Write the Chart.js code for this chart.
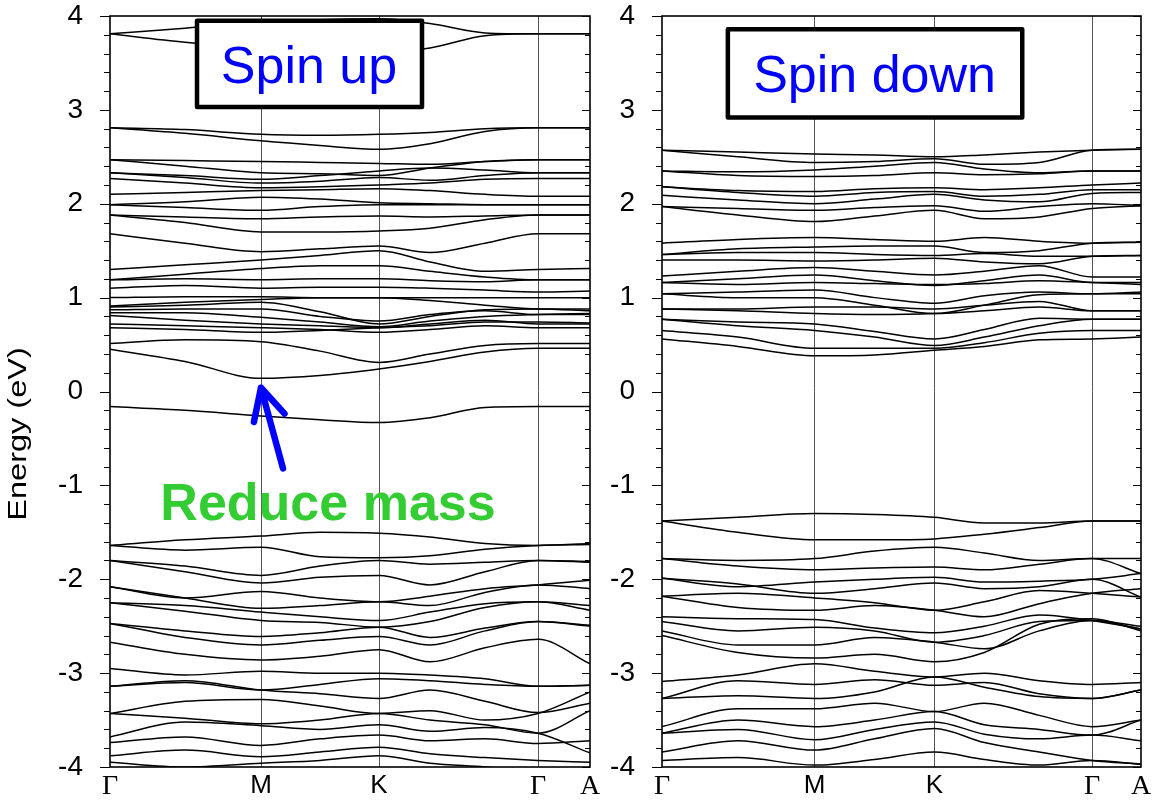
<!DOCTYPE html>
<html>
<head>
<meta charset="utf-8">
<script src="https://cdn.jsdelivr.net/npm/chart.js@4.4.1/dist/chart.umd.min.js"></script>
<style>
  html, body { margin: 0; padding: 0; background: #fff; }
  #wrap { position: relative; width: 1153px; height: 803px; }
  canvas { position: absolute; top: 0; }
  #upChart { left: 0; }
  #downChart { left: 600px; }
</style>
</head>
<body>
<div id="wrap">
  <canvas id="upChart" width="600" height="803"></canvas>
  <canvas id="downChart" width="553" height="803"></canvas>
</div>
<script>
// k-path sample points (Γ, ., M, ., K, ., ., Γ, A) for each panel
const kUp = [0, 0.75, 1.51, 2.10, 2.69, 3.20, 3.75, 4.28, 4.80];
const kDown = [0, 0.76, 1.53, 2.13, 2.73, 3.23, 3.78, 4.31, 4.80];
const kSymUp = [0, 1.51, 2.69, 4.28, 4.80];
const kSymDown = [0, 1.53, 2.73, 4.31, 4.80];
const kSymLabels = ['Γ', 'M', 'K', 'Γ', 'A'];
const energyTicks = [4, 3, 2, 1, 0, -1, -2, -3, -4];

// spin up bands (eV) at the kUp points
const spinUpBands = [
  [3.81, 3.87, 3.93, 3.96, 3.97, 3.92, 3.82, 3.81, 3.81],
  [3.81, 3.72, 3.66, 3.63, 3.62, 3.66, 3.79, 3.81, 3.81],
  [2.81, 2.79, 2.74, 2.73, 2.74, 2.76, 2.80, 2.81, 2.81],
  [2.81, 2.75, 2.67, 2.62, 2.58, 2.64, 2.77, 2.81, 2.81],
  [2.47, 2.46, 2.45, 2.44, 2.43, 2.42, 2.45, 2.47, 2.47],
  [2.47, 2.40, 2.33, 2.32, 2.30, 2.38, 2.45, 2.47, 2.47],
  [2.33, 2.30, 2.26, 2.30, 2.35, 2.38, 2.36, 2.33, 2.33],
  [2.33, 2.28, 2.22, 2.24, 2.28, 2.25, 2.30, 2.33, 2.33],
  [2.27, 2.22, 2.17, 2.18, 2.20, 2.22, 2.26, 2.27, 2.27],
  [2.10, 2.12, 2.14, 2.15, 2.16, 2.14, 2.10, 2.08, 2.08],
  [1.99, 2.02, 2.07, 2.05, 2.01, 2.00, 1.99, 1.99, 1.99],
  [1.99, 1.96, 1.93, 1.97, 1.99, 1.99, 1.99, 1.99, 1.99],
  [1.88, 1.86, 1.84, 1.86, 1.87, 1.86, 1.87, 1.88, 1.88],
  [1.88, 1.80, 1.70, 1.70, 1.71, 1.74, 1.83, 1.88, 1.88],
  [1.68, 1.58, 1.49, 1.52, 1.55, 1.48, 1.58, 1.68, 1.68],
  [1.30, 1.35, 1.40, 1.45, 1.50, 1.38, 1.28, 1.30, 1.31],
  [1.19, 1.25, 1.31, 1.34, 1.34, 1.28, 1.22, 1.19, 1.19],
  [1.19, 1.20, 1.19, 1.20, 1.20, 1.18, 1.17, 1.19, 1.19],
  [1.10, 1.13, 1.10, 1.11, 1.11, 1.10, 1.08, 1.06, 1.07],
  [1.00, 1.01, 1.01, 1.00, 1.00, 1.00, 1.00, 1.00, 1.00],
  [0.91, 0.95, 0.98, 1.00, 1.00, 0.97, 0.92, 0.88, 0.88],
  [0.90, 0.92, 0.95, 0.85, 0.72, 0.80, 0.87, 0.88, 0.86],
  [0.87, 0.88, 0.88, 0.80, 0.75, 0.82, 0.86, 0.82, 0.82],
  [0.84, 0.84, 0.79, 0.74, 0.69, 0.75, 0.80, 0.82, 0.83],
  [0.81, 0.76, 0.72, 0.70, 0.68, 0.72, 0.76, 0.72, 0.72],
  [0.72, 0.70, 0.68, 0.66, 0.63, 0.66, 0.70, 0.68, 0.68],
  [0.68, 0.66, 0.63, 0.65, 0.68, 0.70, 0.74, 0.74, 0.73],
  [0.51, 0.55, 0.53, 0.43, 0.31, 0.40, 0.49, 0.51, 0.51],
  [0.45, 0.32, 0.14, 0.17, 0.24, 0.32, 0.42, 0.46, 0.46],
  [-0.16, -0.20, -0.26, -0.30, -0.33, -0.28, -0.17, -0.16, -0.16],
  [-1.64, -1.58, -1.54, -1.50, -1.51, -1.55, -1.62, -1.64, -1.62],
  [-1.64, -1.69, -1.66, -1.76, -1.77, -1.75, -1.68, -1.64, -1.63],
  [-1.80, -1.86, -1.96, -1.86, -1.80, -1.84, -1.82, -1.80, -1.81],
  [-1.80, -1.92, -2.04, -1.98, -1.96, -2.06, -1.92, -1.80, -1.82],
  [-2.08, -2.20, -2.13, -2.20, -2.24, -2.18, -2.10, -2.06, -2.01],
  [-2.08, -2.20, -2.31, -2.28, -2.24, -2.28, -2.14, -2.06, -2.10],
  [-2.25, -2.28, -2.35, -2.40, -2.44, -2.35, -2.26, -2.24, -2.33],
  [-2.25, -2.34, -2.44, -2.46, -2.51, -2.45, -2.30, -2.24, -2.28],
  [-2.47, -2.55, -2.61, -2.57, -2.51, -2.62, -2.52, -2.45, -2.49],
  [-2.47, -2.62, -2.70, -2.65, -2.61, -2.70, -2.55, -2.45, -2.50],
  [-2.67, -2.80, -2.86, -2.82, -2.75, -2.88, -2.73, -2.64, -2.90],
  [-2.95, -3.02, -2.98, -3.00, -3.00, -3.02, -3.06, -3.14, -3.13],
  [-3.14, -3.10, -3.18, -3.12, -3.06, -3.08, -3.12, -3.14, -3.13],
  [-3.14, -3.08, -3.18, -3.22, -3.27, -3.18, -3.30, -3.42, -3.32],
  [-3.43, -3.30, -3.28, -3.35, -3.43, -3.40, -3.50, -3.43, -3.20],
  [-3.43, -3.48, -3.54, -3.50, -3.43, -3.50, -3.55, -3.64, -3.40],
  [-3.68, -3.52, -3.56, -3.60, -3.55, -3.62, -3.58, -3.64, -3.85],
  [-3.74, -3.68, -3.77, -3.70, -3.66, -3.72, -3.70, -3.75, -3.72],
  [-3.88, -3.82, -3.89, -3.84, -3.79, -3.86, -3.90, -3.93, -3.95],
  [-3.95, -4.00, -3.96, -3.93, -3.88, -3.96, -4.00, -4.05, -4.10]
];

// spin down bands (eV) at the kDown points
const spinDownBands = [
  [2.57, 2.55, 2.53, 2.52, 2.50, 2.52, 2.55, 2.57, 2.58],
  [2.57, 2.50, 2.44, 2.45, 2.48, 2.42, 2.44, 2.57, 2.58],
  [2.35, 2.34, 2.36, 2.40, 2.44, 2.37, 2.33, 2.35, 2.35],
  [2.35, 2.30, 2.29, 2.30, 2.33, 2.31, 2.32, 2.35, 2.35],
  [2.18, 2.14, 2.13, 2.16, 2.17, 2.15, 2.17, 2.20, 2.22],
  [2.18, 2.12, 2.08, 2.12, 2.13, 2.08, 2.10, 2.15, 2.15],
  [2.09, 2.04, 2.00, 2.05, 2.10, 2.04, 2.02, 2.11, 2.12],
  [1.97, 1.95, 1.93, 1.96, 1.98, 1.92, 1.97, 2.00, 1.98],
  [1.97, 1.88, 1.81, 1.87, 1.93, 1.84, 1.86, 1.95, 1.98],
  [1.58, 1.62, 1.64, 1.62, 1.60, 1.64, 1.60, 1.58, 1.59],
  [1.46, 1.52, 1.54, 1.55, 1.55, 1.48, 1.50, 1.58, 1.59],
  [1.46, 1.48, 1.48, 1.46, 1.45, 1.47, 1.44, 1.44, 1.45],
  [1.40, 1.40, 1.39, 1.40, 1.42, 1.38, 1.36, 1.44, 1.45],
  [1.23, 1.28, 1.32, 1.28, 1.24, 1.28, 1.34, 1.22, 1.22],
  [1.16, 1.20, 1.24, 1.18, 1.13, 1.18, 1.24, 1.16, 1.16],
  [1.16, 1.14, 1.16, 1.15, 1.14, 1.15, 1.18, 1.16, 1.14],
  [1.04, 1.06, 1.08, 1.00, 0.94, 1.02, 1.06, 1.04, 1.06],
  [1.04, 1.00, 1.00, 0.92, 0.83, 0.92, 1.03, 1.04, 1.04],
  [0.88, 0.88, 0.90, 0.90, 0.88, 0.92, 0.96, 0.86, 0.86],
  [0.88, 0.86, 0.83, 0.82, 0.83, 0.86, 0.90, 0.86, 0.86],
  [0.77, 0.74, 0.72, 0.64, 0.56, 0.66, 0.78, 0.77, 0.77],
  [0.77, 0.70, 0.65, 0.58, 0.49, 0.58, 0.70, 0.77, 0.77],
  [0.65, 0.58, 0.46, 0.46, 0.46, 0.52, 0.62, 0.65, 0.65],
  [0.56, 0.48, 0.38, 0.39, 0.44, 0.48, 0.55, 0.56, 0.58],
  [-1.38, -1.34, -1.30, -1.31, -1.34, -1.40, -1.40, -1.38, -1.38],
  [-1.38, -1.50, -1.58, -1.58, -1.57, -1.52, -1.45, -1.38, -1.38],
  [-1.78, -1.80, -1.78, -1.70, -1.66, -1.72, -1.80, -1.78, -1.78],
  [-1.78, -1.86, -1.90, -1.88, -1.87, -1.90, -1.84, -1.78, -1.94],
  [-1.99, -2.08, -2.03, -2.00, -1.98, -2.03, -2.02, -2.00, -1.94],
  [-1.99, -2.05, -2.15, -2.10, -2.04, -2.10, -2.08, -2.00, -2.19],
  [-2.18, -2.15, -2.20, -2.25, -2.33, -2.24, -2.12, -2.15, -2.19],
  [-2.18, -2.30, -2.33, -2.28, -2.33, -2.40, -2.26, -2.15, -2.10],
  [-2.40, -2.42, -2.43, -2.52, -2.57, -2.50, -2.38, -2.44, -2.53],
  [-2.45, -2.55, -2.51, -2.55, -2.67, -2.60, -2.45, -2.44, -2.50],
  [-2.55, -2.70, -2.70, -2.62, -2.67, -2.74, -2.55, -2.44, -2.53],
  [-2.60, -2.78, -2.84, -2.80, -2.88, -2.78, -2.48, -2.42, -2.55],
  [-3.09, -3.02, -2.90, -2.98, -3.04, -3.00, -3.08, -3.12, -3.10],
  [-3.27, -3.08, -3.12, -3.07, -3.13, -3.10, -3.22, -3.27, -3.18],
  [-3.27, -3.24, -3.27, -3.20, -3.04, -3.15, -3.25, -3.27, -3.18],
  [-3.57, -3.38, -3.38, -3.32, -3.41, -3.32, -3.45, -3.57, -3.50],
  [-3.64, -3.50, -3.57, -3.50, -3.41, -3.55, -3.60, -3.66, -3.50],
  [-3.64, -3.60, -3.71, -3.60, -3.52, -3.65, -3.70, -3.66, -3.72],
  [-3.84, -3.72, -3.82, -3.70, -3.59, -3.74, -3.84, -3.93, -3.97],
  [-3.93, -3.90, -3.98, -3.92, -3.84, -3.92, -3.98, -3.93, -3.97]
];

const SANS = "'Liberation Sans', Arial, sans-serif";
const SERIF = "'Liberation Serif', 'Times New Roman', serif";

// frame + minor/major energy ticks (outside on the left, inside on the right)
const frameTicks = {
  id: 'frameTicks',
  afterDatasetsDraw(chart) {
    const { ctx, chartArea: a, scales: { y } } = chart;
    ctx.save();
    ctx.strokeStyle = '#000';
    ctx.lineWidth = 1;
    for (let i = 0; i <= 40; i++) {
      const py = Math.round(y.getPixelForValue(-4 + i * 0.2)) + 0.5;
      const major = i % 5 === 0;
      ctx.beginPath();
      ctx.moveTo(a.left - (major ? 10 : 6), py);
      ctx.lineTo(a.left, py);
      ctx.moveTo(a.right - (major ? 8 : 5), py);
      ctx.lineTo(a.right, py);
      ctx.stroke();
    }
    ctx.lineWidth = 1.6;
    ctx.strokeRect(a.left, a.top, a.right - a.left, a.bottom - a.top);
    ctx.restore();
  }
};

// boxes, arrow and free text placed in data coordinates
const notes = {
  id: 'notes',
  afterDraw(chart, args, opts) {
    const { ctx, scales: { x, y } } = chart;
    ctx.save();
    if (opts.energyLabel) {
      ctx.translate(26, 434);
      ctx.rotate(-Math.PI / 2);
      ctx.scale(1.3, 1);
      ctx.font = '25px ' + SANS;
      ctx.fillStyle = '#000';
      ctx.textAlign = 'center';
      ctx.textBaseline = 'alphabetic';
      ctx.fillText('Energy (eV)', 0, 0);
      ctx.setTransform(1, 0, 0, 1, 0, 0);
    }
    if (opts.box) {
      const b = opts.box;
      const x0 = x.getPixelForValue(b.k0), x1 = x.getPixelForValue(b.k1);
      const y0 = y.getPixelForValue(b.e0), y1 = y.getPixelForValue(b.e1);
      ctx.fillStyle = '#fff';
      ctx.fillRect(x0, y0, x1 - x0, y1 - y0);
      ctx.strokeStyle = '#000';
      ctx.lineWidth = 4.5;
      ctx.lineJoin = 'round';
      ctx.strokeRect(x0, y0, x1 - x0, y1 - y0);
      ctx.fillStyle = '#0000ff';
      ctx.font = '52px ' + SANS;
      ctx.textAlign = 'center';
      ctx.textBaseline = 'alphabetic';
      ctx.fillText(b.text, x.getPixelForValue(b.tk), y.getPixelForValue(b.te));
    }
    if (opts.arrow) {
      const ar = opts.arrow;
      const tx = x.getPixelForValue(ar.k1), ty = y.getPixelForValue(ar.e1);
      const sx = x.getPixelForValue(ar.k0), sy = y.getPixelForValue(ar.e0);
      const ang = Math.atan2(sy - ty, sx - tx);
      ctx.strokeStyle = '#0000ff';
      ctx.lineWidth = 6.5;
      ctx.lineCap = 'round';
      ctx.lineJoin = 'round';
      ctx.beginPath();
      ctx.moveTo(sx, sy);
      ctx.lineTo(tx, ty);
      ctx.moveTo(tx + 35 * Math.cos(ang + 0.47), ty + 35 * Math.sin(ang + 0.47));
      ctx.lineTo(tx, ty);
      ctx.lineTo(tx + 35 * Math.cos(ang - 0.47), ty + 35 * Math.sin(ang - 0.47));
      ctx.stroke();
    }
    if (opts.text) {
      const t = opts.text;
      ctx.fillStyle = '#33cc33';
      ctx.font = 'bold 52px ' + SANS;
      ctx.textAlign = 'center';
      ctx.textBaseline = 'alphabetic';
      ctx.fillText(t.label, x.getPixelForValue(t.k), y.getPixelForValue(t.e));
    }
    ctx.restore();
  }
};

function makeBandChart(canvasId, kPts, kSym, bands, yWidth, padRight, noteOpts) {
  return new Chart(document.getElementById(canvasId), {
    type: 'line',
    data: {
      datasets: bands.map(band => ({
        data: band.map((e, i) => ({ x: kPts[i], y: e })),
        borderColor: '#000',
        borderWidth: 1.5,
        pointRadius: 0,
        cubicInterpolationMode: 'monotone',
        fill: false,
        clip: 0
      }))
    },
    options: {
      responsive: false,
      animation: false,
      events: [],
      layout: { padding: { top: 16, right: padRight, left: 0, bottom: 0 } },
      plugins: {
        legend: { display: false },
        tooltip: { enabled: false },
        notes: noteOpts
      },
      scales: {
        x: {
          type: 'linear',
          min: 0,
          max: 4.8,
          afterBuildTicks: s => { s.ticks = kSym.map(v => ({ value: v })); },
          afterFit: s => { s.height = 36; s.paddingLeft = 0; s.paddingRight = 0; },
          ticks: {
            autoSkip: false,
            maxRotation: 0,
            padding: 3,
            color: '#000',
            callback: (v, i) => kSymLabels[i],
            font: c => (c.index === 1 || c.index === 2)
              ? { family: SANS, size: 26 }
              : { family: SERIF, size: 28 }
          },
          grid: {
            drawTicks: false,
            color: c => (c.index === 0 || c.index === kSym.length - 1) ? 'rgba(0,0,0,0)' : '#555',
            lineWidth: 1
          },
          border: { display: false }
        },
        y: {
          type: 'linear',
          min: -4,
          max: 4,
          afterBuildTicks: s => { s.ticks = energyTicks.map(v => ({ value: v })); },
          afterFit: s => { s.width = yWidth; s.paddingTop = 0; s.paddingBottom = 0; },
          ticks: {
            padding: 27,
            color: '#000',
            font: { family: SANS, size: 28 }
          },
          grid: { drawOnChartArea: false, drawTicks: false },
          border: { display: false }
        }
      }
    },
    plugins: [frameTicks, notes]
  });
}

makeBandChart('upChart', kUp, kSymUp, spinUpBands, 110, 10, {
  energyLabel: true,
  box: { k0: 0.87, k1: 3.12, e0: 3.95, e1: 3.03, text: 'Spin up', tk: 1.99, te: 3.29 },
  arrow: { k0: 1.73, e0: -0.82, k1: 1.51, e1: 0.04 },
  text: { label: 'Reduce mass', k: 2.18, e: -1.37 }
});

makeBandChart('downChart', kDown, kSymDown, spinDownBands, 62, 12, {
  box: { k0: 0.66, k1: 3.61, e0: 3.86, e1: 2.92, text: 'Spin down', tk: 2.13, te: 3.19 }
});
</script>
</body>
</html>
